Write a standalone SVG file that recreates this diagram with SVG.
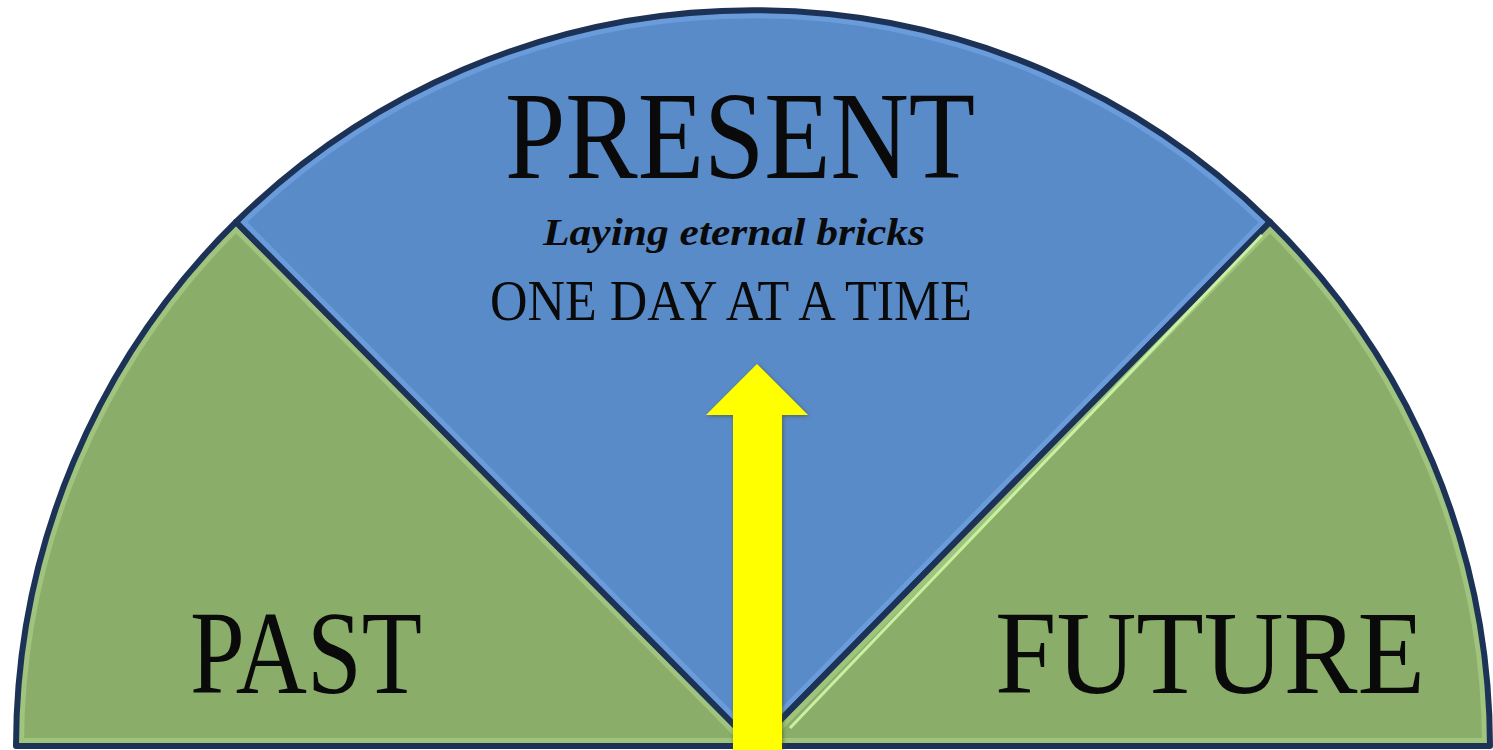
<svg xmlns="http://www.w3.org/2000/svg" width="1493" height="750" viewBox="0 0 1493 750">
  <defs>
    <style>
      .green { fill: #8aae69; }
      .blue { fill: #5a8bc9; }
      .outline { fill: none; stroke: #1c3357; stroke-width: 6; stroke-linejoin: round; }
      .glowG { fill: none; stroke: #a0c37d; stroke-width: 16; stroke-linejoin: round; }
      .glowB { fill: none; stroke: #6a9cdc; stroke-width: 16; stroke-linejoin: round; }
      .big { font-family: "Liberation Serif", "DejaVu Serif", serif; fill: #0a0a0a; }
      .ital { font-family: "Liberation Serif", "DejaVu Serif", serif; font-style: italic; font-weight: bold; fill: #0a0a0a; }
    </style>
    <path id="pPast" d="M 755 746 L 16 746 A 737 737 0 0 1 236 222 Z"/>
    <path id="pPresent" d="M 755 746 L 236 222 A 737 737 0 0 1 1270 222 Z"/>
    <path id="pFuture" d="M 755 746 L 1270 222 A 737 737 0 0 1 1490 746 Z"/>
    <clipPath id="cPast"><use href="#pPast"/></clipPath>
    <clipPath id="cPresent"><use href="#pPresent"/></clipPath>
    <clipPath id="cFuture"><use href="#pFuture"/></clipPath>
    <filter id="shadow" x="-10%" y="-10%" width="120%" height="120%">
      <feGaussianBlur in="SourceAlpha" stdDeviation="2"/>
      <feOffset dx="1" dy="1" result="b"/>
      <feFlood flood-color="#4a4a10" flood-opacity="0.6"/>
      <feComposite in2="b" operator="in"/>
      <feMerge><feMergeNode/><feMergeNode in="SourceGraphic"/></feMerge>
    </filter>
  </defs>
  <rect width="1493" height="750" fill="#ffffff"/>

  <g id="past">
    <use href="#pPast" class="green"/>
    <g clip-path="url(#cPast)"><use href="#pPast" class="glowG"/></g>
    <use href="#pPast" class="outline"/>
    <line x1="247" y1="233" x2="735" y2="726" stroke="#e8f4e0" stroke-width="2"/>
    <text class="big" x="306" y="693" font-size="118" text-anchor="middle" textLength="232" lengthAdjust="spacingAndGlyphs">PAST</text>
  </g>

  <g id="present">
    <use href="#pPresent" class="blue"/>
    <g clip-path="url(#cPresent)"><use href="#pPresent" class="glowB"/></g>
    <use href="#pPresent" class="outline"/>
    <text class="big" x="740" y="178" font-size="124" text-anchor="middle" textLength="470" lengthAdjust="spacingAndGlyphs">PRESENT</text>
    <text class="ital" x="734" y="245" font-size="38" text-anchor="middle" textLength="382" lengthAdjust="spacingAndGlyphs">Laying eternal bricks</text>
    <text class="big" x="731" y="320" font-size="58" text-anchor="middle" textLength="482" lengthAdjust="spacingAndGlyphs">ONE DAY AT A TIME</text>
  </g>

  <g id="future">
    <use href="#pFuture" class="green"/>
    <g clip-path="url(#cFuture)"><use href="#pFuture" class="glowG"/></g>
    <use href="#pFuture" class="outline"/>
    <line x1="1262" y1="235" x2="790" y2="728" stroke="#c8f0a0" stroke-width="3"/>
    <text class="big" x="1210" y="693" font-size="118" text-anchor="middle" textLength="430" lengthAdjust="spacingAndGlyphs">FUTURE</text>
  </g>

  <g id="connectors">
    <path d="M 757 364 L 808 415 L 782 415 L 782 750 L 733 750 L 733 415 L 706 415 Z" fill="#ffff00" filter="url(#shadow)"/>
  </g>
</svg>
